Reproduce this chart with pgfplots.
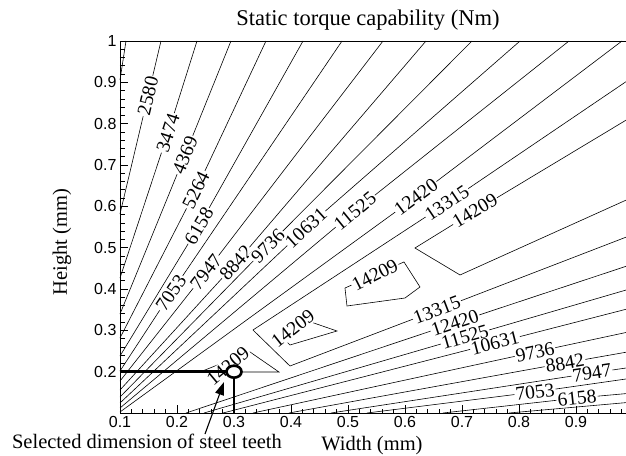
\documentclass[border=0pt]{standalone}
\usepackage{fontspec}
\setmainfont{Liberation Serif}
\newfontfamily\arialfont{Liberation Sans}
\usepackage{pgfplots}
\pgfplotsset{compat=1.18}
\usetikzlibrary{arrows.meta}
\pgfplotsset{cl/.style={black, line width=0.6pt, mark=none}}
\tikzset{clab/.style={font=\fontsize{19.5}{20}\selectfont, fill=white, inner sep=1.2pt}}

\begin{document}
\begin{tikzpicture}
\begin{axis}[
  name=ax, at={(0,0)}, anchor=south west,
  scale only axis, width=513pt, height=372pt,
  xmin=0.1, xmax=1.0, ymin=0.1, ymax=1.0,
  clip=false,
  axis line style={line width=0.8pt},
  xtick={0.1,0.2,0.3,0.4,0.5,0.6,0.7,0.8,0.9,1},
  xticklabels={0.1,0.2,0.3,0.4,0.5,0.6,0.7,0.8,0.9,1},
  ytick={0.2,0.3,0.4,0.5,0.6,0.7,0.8,0.9,1},
  yticklabels={0.2,0.3,0.4,0.5,0.6,0.7,0.8,0.9,1},
  minor tick num=4,
  tick align=inside, tick pos=left,
  major tick length=8pt, minor tick length=4.5pt,
  tick style={line width=0.7pt, black},
  /pgf/number format/assume math mode=true,
  tick label style={font=\arialfont\fontsize{16}{18}\selectfont},
]
% upper fan
\addplot[cl] coordinates {(0.1,0.9057) (0.1105,1)};
\addplot[cl] coordinates {(0.1,0.5815) (0.1491,0.867) (0.1719,1)};
\addplot[cl] coordinates {(0.1,0.4266) (0.1842,0.7775) (0.2351,1)};
\addplot[cl] coordinates {(0.1,0.3395) (0.2140,0.7242) (0.2947,1)};
\addplot[cl] coordinates {(0.1,0.2815) (0.2333,0.6396) (0.3561,1)};
\addplot[cl] coordinates {(0.1,0.2379) (0.2386,0.5525) (0.4211,1)};
\addplot[cl] coordinates {(0.1,0.2016) (0.1895,0.3903) (0.4895,1)};
\addplot[cl] coordinates {(0.1,0.1774) (0.2509,0.4412) (0.5614,1)};
\addplot[cl] coordinates {(0.1,0.1556) (0.3035,0.4629) (0.6368,1)};
\addplot[cl] coordinates {(0.1,0.1387) (0.3596,0.5041) (0.7175,1)};
\addplot[cl] coordinates {(0.1,0.1242) (0.4263,0.5476) (0.8018,1)};
\addplot[cl] coordinates {(0.1,0.1121) (0.5123,0.5888) (0.8877,1)};
\addplot[cl] coordinates {(0.1,0.1024) (0.6193,0.6226) (0.9807,1)};
% 13315 (V)
\addplot[cl] coordinates {(1,0.913) (0.6737,0.6081) (0.3333,0.3008) (0.3982,0.2137) (0.6561,0.3492) (1,0.5319)};
% 14209 wedge at right
\addplot[cl] coordinates {(1,0.8186) (0.7228,0.5888) (0.6175,0.4992) (0.6965,0.4339) (1,0.6226)};
% lower fan
\addplot[cl] coordinates {(0.2158,0.1) (0.6877,0.3178) (1,0.4605)};
\addplot[cl] coordinates {(0.2474,0.1) (0.7053,0.2839) (1,0.4024)};
\addplot[cl] coordinates {(0.2807,0.1) (0.7579,0.2694) (1,0.3553)};
\addplot[cl] coordinates {(0.3333,0.1) (0.8281,0.2476) (1,0.2984)};
\addplot[cl] coordinates {(0.3965,0.1) (0.8807,0.221) (1,0.25)};
\addplot[cl] coordinates {(0.4702,0.1) (0.9281,0.1968) (1,0.2113)};
\addplot[cl] coordinates {(0.5333,0.1) (0.8281,0.1508) (1,0.1847)};
\addplot[cl] coordinates {(0.6667,0.1) (0.9018,0.1363) (1,0.1484)};
\addplot[cl] coordinates {(0.7825,0.1) (1,0.1266)};
% 14209 islands
\addplot[cl] coordinates {(0.4947,0.4024) (0.5982,0.4654) (0.6263,0.4049) (0.6,0.3782) (0.4982,0.3589) (0.4947,0.4024)};
\addplot[cl] coordinates {(0.3842,0.2839) (0.4246,0.325) (0.4807,0.2984) (0.3982,0.2645) (0.3842,0.2839)};
\addplot[cl] coordinates {(0.2404,0.1992) (0.3281,0.2476) (0.3789,0.1992) (0.2404,0.1992)};
% labels
\node[clab, rotate=76.7] at (axis cs:0.1491,0.867) {2580};
\node[clab, rotate=72] at (axis cs:0.1842,0.7775) {3474};
\node[clab, rotate=67.9] at (axis cs:0.2140,0.7242) {4369};
\node[clab, rotate=63.8] at (axis cs:0.2333,0.6396) {5264};
\node[clab, rotate=59.8] at (axis cs:0.2386,0.5525) {6158};
\node[clab, rotate=56.1] at (axis cs:0.1895,0.3903) {7053};
\node[clab, rotate=52.3] at (axis cs:0.2509,0.4412) {7947};
\node[clab, rotate=48.8] at (axis cs:0.3035,0.4629) {8842};
\node[clab, rotate=45.3] at (axis cs:0.3596,0.5041) {9736};
\node[clab, rotate=42.1] at (axis cs:0.4263,0.5476) {10631};
\node[clab, rotate=39.3] at (axis cs:0.5123,0.5888) {11525};
\node[clab, rotate=36.5] at (axis cs:0.6193,0.6226) {12420};
\node[clab, rotate=34] at (axis cs:0.6737,0.6081) {13315};
\node[clab, rotate=31] at (axis cs:0.7228,0.5888) {14209};
\node[clab, rotate=21] at (axis cs:0.6561,0.3492) {13315};
\node[clab, rotate=18.5] at (axis cs:0.6877,0.3178) {12420};
\node[clab, rotate=16.2] at (axis cs:0.7053,0.2839) {11525};
\node[clab, rotate=14.4] at (axis cs:0.7579,0.2694) {10631};
\node[clab, rotate=12.2] at (axis cs:0.8281,0.2476) {9736};
\node[clab, rotate=10.3] at (axis cs:0.8807,0.221) {8842};
\node[clab, rotate=8.7] at (axis cs:0.9281,0.1968) {7947};
\node[clab, rotate=7.7] at (axis cs:0.8281,0.1508) {7053};
\node[clab, rotate=6.2] at (axis cs:0.9018,0.1363) {6158};
\node[clab, rotate=27] at (axis cs:0.5474,0.4339) {14209};
\node[clab, rotate=38] at (axis cs:0.4035,0.3045) {14209};
\node[clab, rotate=40] at (axis cs:0.2895,0.2137) {14209};
% selected point
\draw[line width=2.6pt] (axis cs:0.1,0.2) -- (axis cs:0.3,0.2);
\draw[line width=2.6pt] (axis cs:0.3,0.2) -- (axis cs:0.3,0.1);
\draw[line width=2.6pt, fill=white] (axis cs:0.3,0.2) ellipse[x radius=7.5pt, y radius=6pt];
\end{axis}
\draw[line width=1.1pt, -{Triangle[length=13pt, width=9pt]}] (85pt,-21pt) -- (104pt,31pt);
\node[font=\fontsize{22.5}{24}\selectfont] at (248pt,393pt) {Static torque capability (Nm)};
\node[font=\fontsize{20.5}{22}\selectfont] at (252pt,-33pt) {Width (mm)};
\node[font=\fontsize{20.5}{22}\selectfont, rotate=90] at (-58pt,171pt) {Height (mm)};
\node[font=\fontsize{20.5}{22}\selectfont] at (27pt,-28pt) {Selected dimension of steel teeth};
\pgfresetboundingbox
\useasboundingbox (-120pt,-42pt) rectangle (506pt,413pt);
\end{tikzpicture}
\end{document}
